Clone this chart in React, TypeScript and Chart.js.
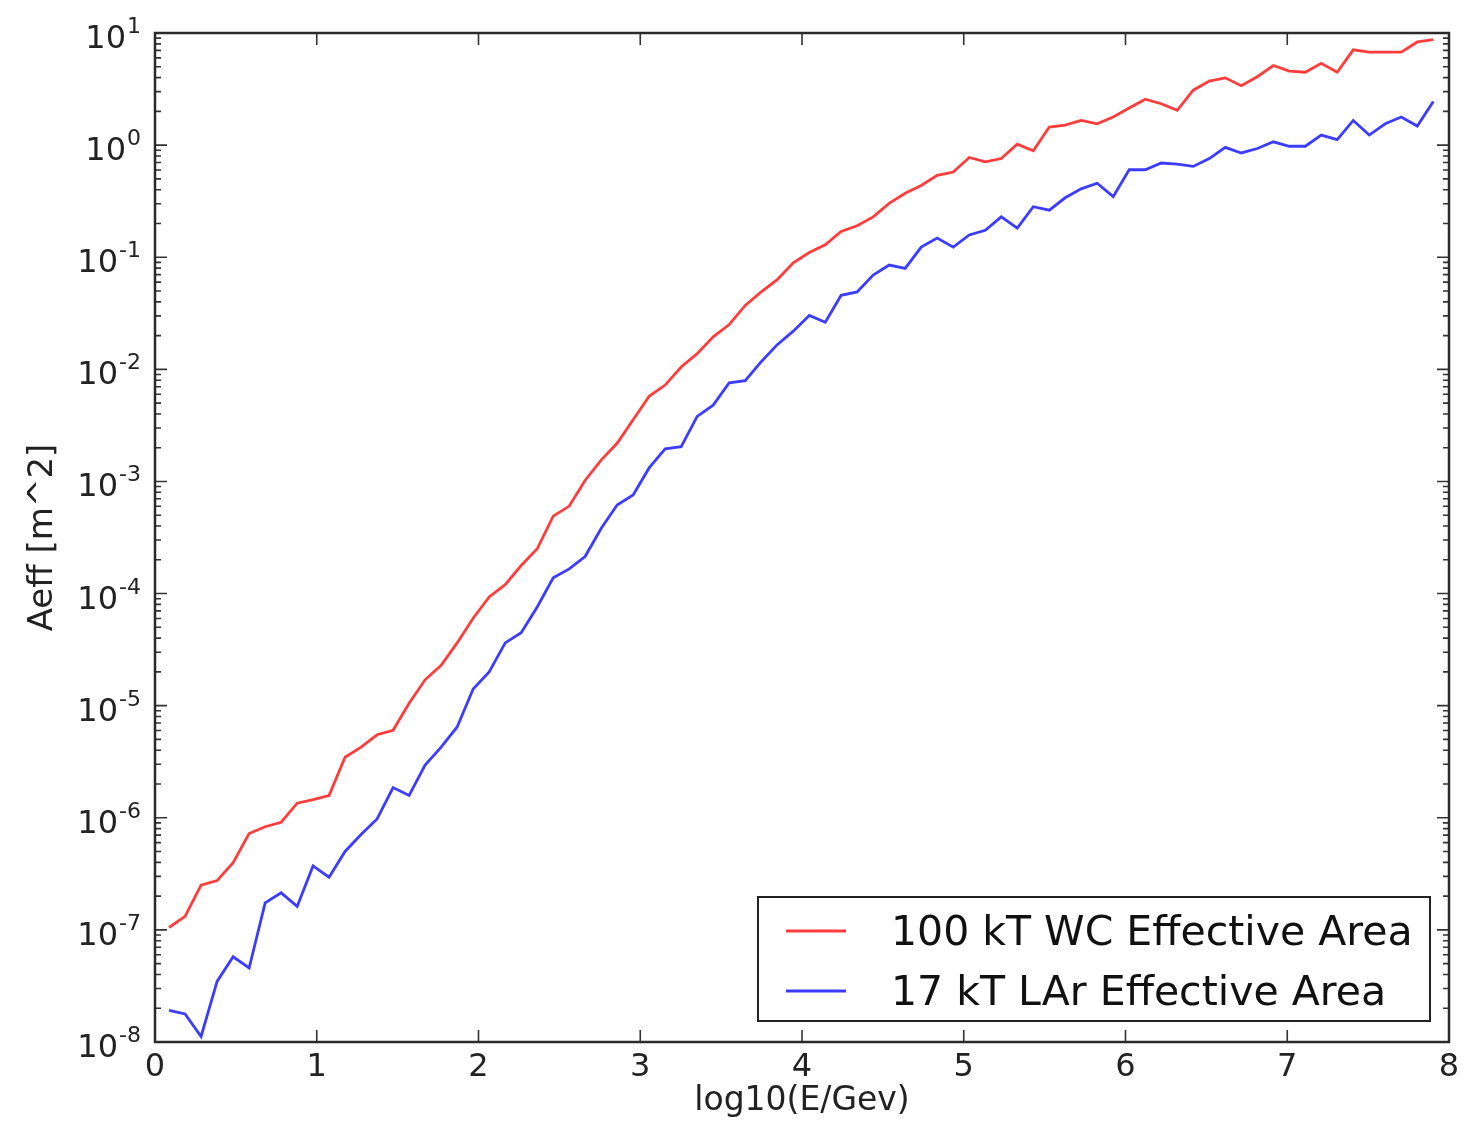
import React, { useEffect, useRef } from "react";
import { Chart, registerables } from "chart.js";

Chart.register(...registerables);

// log10(E/GeV) sample positions
const xValues = [
  0.087, 0.186, 0.285, 0.384, 0.483, 0.582, 0.681, 0.78, 0.879, 0.977,
  1.076, 1.175, 1.274, 1.373, 1.472, 1.571, 1.67, 1.769, 1.868, 1.967,
  2.066, 2.165, 2.264, 2.363, 2.462, 2.561, 2.659, 2.758, 2.857, 2.956,
  3.055, 3.154, 3.253, 3.352, 3.451, 3.55, 3.649, 3.748, 3.847, 3.946,
  4.045, 4.144, 4.242, 4.341, 4.44, 4.539, 4.638, 4.737, 4.836, 4.935,
  5.034, 5.133, 5.232, 5.331, 5.43, 5.529, 5.627, 5.726, 5.825, 5.924,
  6.023, 6.122, 6.221, 6.32, 6.419, 6.518, 6.617, 6.716, 6.815, 6.914,
  7.013, 7.112, 7.21, 7.309, 7.408, 7.507, 7.606, 7.705, 7.804, 7.903,
];

// 100 kT WC Effective Area [m^2]
const wcArea = [
  1.05e-7, 1.32e-7, 2.51e-7, 2.75e-7, 3.98e-7, 7.24e-7, 8.32e-7, 9.12e-7, 1.35e-6, 1.45e-6,
  1.58e-6, 3.47e-6, 4.27e-6, 5.5e-6, 6.03e-6, 1.05e-5, 1.7e-5, 2.29e-5, 3.63e-5, 6.03e-5,
  9.33e-5, 1.2e-4, 1.78e-4, 2.51e-4, 4.9e-4, 6.03e-4, 1.02e-3, 1.55e-3, 2.19e-3, 3.55e-3,
  5.75e-3, 7.24e-3, 1.05e-2, 1.38e-2, 1.95e-2, 2.51e-2, 3.72e-2, 4.9e-2, 6.31e-2, 8.91e-2,
  0.11, 0.129, 0.17, 0.191, 0.229, 0.302, 0.372, 0.437, 0.537, 0.575,
  0.776, 0.708, 0.759, 1.02, 0.891, 1.45, 1.51, 1.66, 1.55, 1.78,
  2.14, 2.57, 2.34, 2.04, 3.09, 3.72, 3.98, 3.39, 4.07, 5.13,
  4.57, 4.47, 5.37, 4.47, 7.08, 6.76, 6.76, 6.76, 8.32, 8.71,
];

// 17 kT LAr Effective Area [m^2]
const larArea = [
  1.91e-8, 1.78e-8, 1.12e-8, 3.47e-8, 5.75e-8, 4.57e-8, 1.74e-7, 2.14e-7, 1.62e-7, 3.72e-7,
  2.95e-7, 5.01e-7, 7.08e-7, 9.77e-7, 1.86e-6, 1.58e-6, 2.95e-6, 4.27e-6, 6.46e-6, 1.41e-5,
  2.0e-5, 3.63e-5, 4.47e-5, 7.59e-5, 1.38e-4, 1.66e-4, 2.14e-4, 3.8e-4, 6.17e-4, 7.59e-4,
  1.32e-3, 1.95e-3, 2.04e-3, 3.8e-3, 4.79e-3, 7.59e-3, 7.94e-3, 1.17e-2, 1.66e-2, 2.19e-2,
  3.02e-2, 2.63e-2, 4.57e-2, 4.9e-2, 6.92e-2, 8.51e-2, 7.94e-2, 0.123, 0.148, 0.123,
  0.158, 0.174, 0.229, 0.182, 0.282, 0.263, 0.339, 0.407, 0.457, 0.347,
  0.603, 0.603, 0.692, 0.676, 0.646, 0.759, 0.955, 0.851, 0.933, 1.07,
  0.977, 0.977, 1.23, 1.12, 1.66, 1.23, 1.55, 1.78, 1.48, 2.45,
];

const seriesLabels = ["100 kT WC Effective Area", "17 kT LAr Effective Area"];
const seriesColors = ["#ff3c3c", "#3c3cff"];
const xTicks = [0, 1, 2, 3, 4, 5, 6, 7, 8];
const yTickExponents = [-8, -7, -6, -5, -4, -3, -2, -1, 0, 1];
const xTitle = "log10(E/Gev)";
const yTitle = "Aeff [m^2]";

const FONT = "'DejaVu Sans', 'Liberation Sans', sans-serif";

const decorPlugin = {
  id: "decor",
  afterDraw(chart: any) {
    const { ctx, chartArea: a, scales } = chart;
    const xs = scales.x;
    const ys = scales.y;
    ctx.save();

    // ticks (inward, all four sides)
    ctx.strokeStyle = "#333";
    ctx.lineWidth = 1.6;
    ctx.beginPath();
    const maxE = yTickExponents[yTickExponents.length - 1];
    for (const e of yTickExponents) {
      const py = ys.getPixelForValue(Math.pow(10, e));
      ctx.moveTo(a.left, py);
      ctx.lineTo(a.left + 12, py);
      ctx.moveTo(a.right, py);
      ctx.lineTo(a.right - 12, py);
      if (e < maxE) {
        for (let m = 2; m <= 9; m++) {
          const pm = ys.getPixelForValue(m * Math.pow(10, e));
          ctx.moveTo(a.left, pm);
          ctx.lineTo(a.left + 6, pm);
          ctx.moveTo(a.right, pm);
          ctx.lineTo(a.right - 6, pm);
        }
      }
    }
    for (const t of xTicks) {
      const px = xs.getPixelForValue(t);
      ctx.moveTo(px, a.bottom);
      ctx.lineTo(px, a.bottom - 12);
      ctx.moveTo(px, a.top);
      ctx.lineTo(px, a.top + 12);
    }
    ctx.stroke();

    // frame
    ctx.strokeStyle = "#2a2a2a";
    ctx.lineWidth = 2.5;
    ctx.strokeRect(a.left, a.top, a.right - a.left, a.bottom - a.top);

    // y tick labels: 10^e
    ctx.fillStyle = "#222";
    ctx.textBaseline = "alphabetic";
    ctx.textAlign = "left";
    for (const e of yTickExponents) {
      const py = ys.getPixelForValue(Math.pow(10, e));
      ctx.font = `32px ${FONT}`;
      const base = "10";
      const bw = ctx.measureText(base).width;
      ctx.font = `22px ${FONT}`;
      const sup = String(e);
      const sw = ctx.measureText(sup).width;
      const right = a.left - 14;
      const x0 = right - sw - bw - 1;
      ctx.font = `32px ${FONT}`;
      ctx.fillText(base, x0, py + 15);
      ctx.font = `22px ${FONT}`;
      ctx.fillText(sup, x0 + bw + 1, py);
    }

    // x tick labels
    ctx.font = `32px ${FONT}`;
    ctx.textAlign = "center";
    for (const t of xTicks) {
      const px = xs.getPixelForValue(t);
      ctx.fillText(String(t), px, a.bottom + 34);
    }

    // axis titles
    ctx.font = `33px ${FONT}`;
    ctx.fillText(xTitle, (a.left + a.right) / 2, a.bottom + 68);
    ctx.save();
    ctx.translate(52, (a.top + a.bottom) / 2);
    ctx.rotate(-Math.PI / 2);
    ctx.font = `34px ${FONT}`;
    ctx.textAlign = "center";
    ctx.fillText(yTitle, 0, 0);
    ctx.restore();

    // legend
    const lx = a.right - 691;
    const ly = a.bottom - 145;
    const lw = 672;
    const lh = 124;
    ctx.fillStyle = "#fff";
    ctx.fillRect(lx, ly, lw, lh);
    ctx.strokeStyle = "#222";
    ctx.lineWidth = 2;
    ctx.strokeRect(lx, ly, lw, lh);
    ctx.font = `41px ${FONT}`;
    ctx.textAlign = "left";
    seriesLabels.forEach((lab, i) => {
      const yy = ly + 34 + i * 60;
      ctx.strokeStyle = seriesColors[i];
      ctx.lineWidth = 2.8;
      ctx.beginPath();
      ctx.moveTo(lx + 28, yy);
      ctx.lineTo(lx + 88, yy);
      ctx.stroke();
      ctx.fillStyle = "#111";
      ctx.fillText(lab, lx + 133, yy + 14);
    });

    ctx.restore();
  },
};

export default function App() {
  const ref = useRef<HTMLCanvasElement | null>(null);
  useEffect(() => {
    if (!ref.current) return;
    const mk = (vals: number[]) => xValues.map((x, i) => ({ x, y: vals[i] }));
    const chart = new Chart(ref.current, {
      type: "line",
      data: {
        datasets: [
          {
            label: seriesLabels[0],
            data: mk(wcArea),
            borderColor: seriesColors[0],
            borderWidth: 2.8,
            pointRadius: 0,
            tension: 0,
            fill: false,
          },
          {
            label: seriesLabels[1],
            data: mk(larArea),
            borderColor: seriesColors[1],
            borderWidth: 2.8,
            pointRadius: 0,
            tension: 0,
            fill: false,
          },
        ],
      },
      options: {
        responsive: false,
        animation: false,
        devicePixelRatio: 1,
        layout: { padding: { top: 33, right: 28, left: 0, bottom: 0 } },
        plugins: { legend: { display: false }, tooltip: { enabled: false } },
        scales: {
          x: {
            type: "linear",
            min: 0,
            max: 8,
            grid: { display: false },
            border: { display: false },
            ticks: { display: false },
            afterFit: (s: any) => {
              s.height = 79;
            },
          },
          y: {
            type: "logarithmic",
            min: 1e-8,
            max: 10,
            grid: { display: false },
            border: { display: false },
            ticks: { display: false },
            afterFit: (s: any) => {
              s.width = 155;
            },
          },
        },
      },
      plugins: [decorPlugin],
    });
    return () => chart.destroy();
  }, []);
  return (
    <div style={{ position: "fixed", left: 0, top: 0, width: 1477, height: 1121, background: "#fff" }}>
      <canvas ref={ref} width={1477} height={1121} style={{ display: "block" }} />
    </div>
  );
}
